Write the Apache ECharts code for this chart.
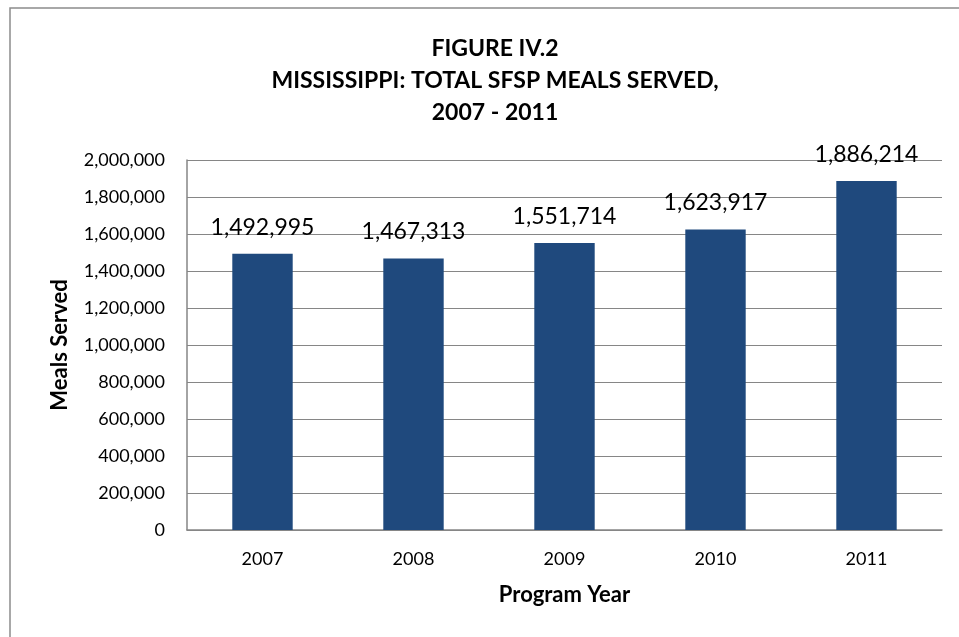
<!DOCTYPE html>
<html>
<head>
<meta charset="utf-8">
<script src="https://cdn.jsdelivr.net/npm/echarts@6/dist/echarts.min.js"></script>
<style>
  html, body { margin: 0; padding: 0; background: #ffffff; }
  #chart { width: 959px; height: 637px; }
</style>
</head>
<body>
<div id="chart"></div>
<script>
// Program years and total SFSP meals served in Mississippi
const years = ['2007', '2008', '2009', '2010', '2011'];
const mealsServed = [1492995, 1467313, 1551714, 1623917, 1886214];
const yTicks = { min: 0, max: 2000000, interval: 200000 };

const FONT = 'Lato, "Noto Sans", sans-serif';
const GRAY = '#868686';

const chart = echarts.init(document.getElementById('chart'), null, { renderer: 'canvas' });

chart.setOption({
  animation: false,
  backgroundColor: '#ffffff',
  title: {
    text: 'FIGURE IV.2\nMISSISSIPPI: TOTAL SFSP MEALS SERVED,\n2007 - 2011',
    left: 490,
    top: 28,
    textAlign: 'center',
    textStyle: {
      fontFamily: FONT,
      fontWeight: 'bold',
      fontSize: 23,
      lineHeight: 32,
      color: '#000000'
    }
  },
  graphic: [{
    type: 'rect',
    shape: { x: 10, y: 8, width: 980, height: 660 },
    style: { fill: 'none', stroke: '#8c8c8c', lineWidth: 1.5 },
    silent: true
  }],
  grid: { left: 187, right: 17, top: 160, bottom: 107 },
  xAxis: {
    type: 'category',
    data: years,
    name: 'Program Year',
    nameLocation: 'middle',
    nameGap: 54,
    nameTextStyle: { fontFamily: FONT, fontWeight: 'bold', fontSize: 22, color: '#000' },
    axisLine: { show: true, lineStyle: { color: GRAY, width: 1.5 } },
    axisTick: { show: false },
    axisLabel: { fontFamily: FONT, fontSize: 18, color: '#000', margin: 20 }
  },
  yAxis: {
    type: 'value',
    min: yTicks.min,
    max: yTicks.max,
    interval: yTicks.interval,
    name: 'Meals Served',
    nameLocation: 'middle',
    nameGap: 116,
    nameTextStyle: { fontFamily: FONT, fontWeight: 'bold', fontSize: 22, color: '#000' },
    axisLine: { show: true, lineStyle: { color: GRAY, width: 1.5 } },
    axisTick: { show: false },
    splitLine: { show: true, lineStyle: { color: GRAY, width: 1.2 } },
    axisLabel: {
      fontFamily: FONT,
      fontSize: 18,
      color: '#000',
      margin: 22,
      formatter: v => v.toLocaleString('en-US')
    }
  },
  series: [{
    type: 'bar',
    data: mealsServed,
    barWidth: '40%',
    itemStyle: { color: '#1F497D' },
    label: {
      show: true,
      position: 'top',
      distance: 15,
      fontFamily: FONT,
      fontSize: 23,
      color: '#000',
      formatter: p => p.value.toLocaleString('en-US')
    }
  }]
});
</script>
</body>
</html>
